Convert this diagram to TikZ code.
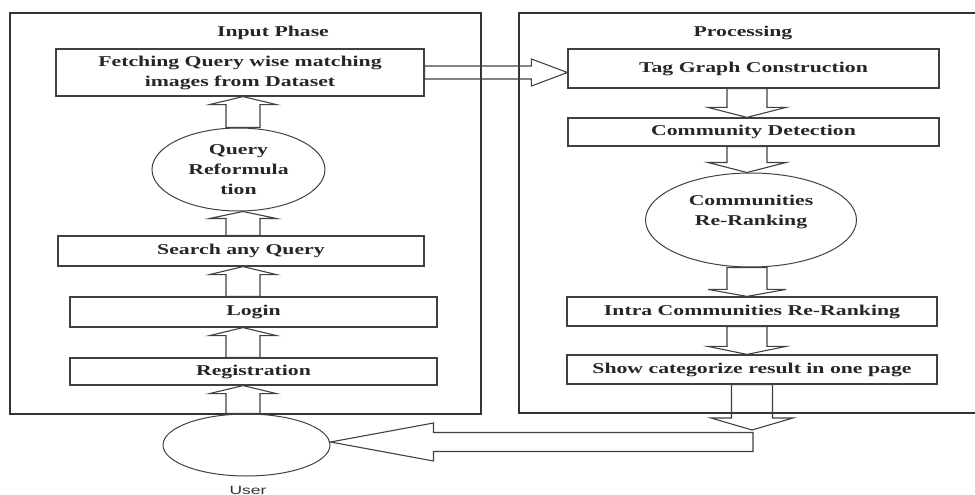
\documentclass[tikz,border=0pt]{standalone}
\usepackage{fontspec}
\setmainfont[FakeStretch=1.45]{Liberation Serif}
\newfontfamily\userfont[FakeStretch=1.45]{Liberation Sans}
\usetikzlibrary{calc,shapes.geometric}

% block arrow: [options]{from}{to}{shaft half width}{head half width}{head length}
\newcommand{\blkarrow}[6][]{%
  \coordinate (ba) at (#2);
  \coordinate (bb) at (#3);
  \coordinate (bh) at ($(bb)!#6!(ba)$);
  \draw[blk,#1] ($(ba)!#4!90:(bb)$) -- ($(bh)!#4!-90:(ba)$) -- ($(bh)!#5!-90:(ba)$) -- (bb)
    -- ($(bh)!#5!90:(ba)$) -- ($(bh)!#4!90:(ba)$) -- ($(ba)!#4!-90:(bb)$) -- cycle;}

\begin{document}
\begin{tikzpicture}[x=1pt,y=-1pt,
    txt/.style={font=\fontsize{15}{20}\selectfont\bfseries,text=black!85,align=center},
    box/.style={txt,draw=black!75,line width=1.2pt,inner sep=0pt},
    oval/.style={txt,ellipse,draw=black!75,line width=1pt,inner sep=0pt},
    blk/.style={draw=black!75,line width=1.1pt,line join=miter},
    panel/.style={draw=black!80,line width=1.3pt}]
    \useasboundingbox (0,0) rectangle (975,495);
    % the two phases
    \draw[panel] (10,13) rectangle (481,414);
    \draw[panel] (975,13) -- (519,13) -- (519,413) -- (975,413);
    \node[txt] (inp) at (273,33) {Input Phase};
    \node[txt] (proc) at (743,33) {Processing};
    % input phase
    \node[box,minimum width=368pt,minimum height=47pt] (fetch) at (240,72.5) {Fetching Query wise matching\\images from Dataset};
    \node[oval,minimum width=173pt,minimum height=83pt] (qr) at (238.5,169.5) {Query\\Reformula\\tion};
    \node[box,minimum width=366pt,minimum height=30pt] (search) at (241,251) {Search any Query};
    \node[box,minimum width=367pt,minimum height=30pt] (login) at (253.5,312) {Login};
    \node[box,minimum width=367pt,minimum height=27pt] (reg) at (253.5,371.5) {Registration};
    \node[oval,minimum width=167pt,minimum height=62pt] (user) at (246.5,445) {};
    \node[font=\userfont\fontsize{12}{14}\selectfont,text=black!80] (ulbl) at (248,490) {User};
    % processing
    \node[box,minimum width=371pt,minimum height=39pt] (tag) at (753.5,68.5) {Tag Graph Construction};
    \node[box,minimum width=371pt,minimum height=28pt] (comm) at (753.5,132) {Community Detection};
    \node[oval,minimum width=211pt,minimum height=94pt] (crr) at (751,220) {Communities\\Re-Ranking\\ };
    \node[box,minimum width=370pt,minimum height=29pt] (intra) at (752,311.5) {Intra Communities Re-Ranking};
    \node[box,minimum width=370pt,minimum height=29pt] (show) at (752,369.5) {Show categorize result in one page};
    % arrows
    \coordinate (lc) at (243,0);
    \coordinate (rc) at (747,0);
    \coordinate (out) at (752,430);
    \coordinate (back) at (753,442);
    \blkarrow{lc |- user.north}{lc |- reg.south}{17pt}{33.5pt}{8pt}
    \blkarrow{lc |- reg.north}{lc |- login.south}{17pt}{33.5pt}{8pt}
    \blkarrow{lc |- login.north}{lc |- search.south}{17pt}{33.5pt}{8pt}
    \blkarrow{lc |- search.north}{lc |- qr.south}{17pt}{33.5pt}{7pt}
    \blkarrow{lc |- qr.north}{lc |- fetch.south}{17pt}{33.5pt}{8pt}
    \blkarrow{fetch.east}{tag.west |- fetch.east}{6.5pt}{13.5pt}{36pt}
    \blkarrow{rc |- tag.south}{rc |- comm.north}{20pt}{39pt}{10pt}
    \blkarrow{rc |- comm.south}{rc |- crr.north}{20pt}{39pt}{10pt}
    \blkarrow{rc |- crr.south}{rc |- intra.north}{20pt}{39pt}{7pt}
    \blkarrow{rc |- intra.south}{rc |- show.north}{20pt}{39pt}{8pt}
    \blkarrow{show.south -| out}{out}{20.5pt}{41pt}{12pt}
    \blkarrow{back}{user.east |- back}{9.5pt}{19pt}{103pt}
\end{tikzpicture}
\end{document}
